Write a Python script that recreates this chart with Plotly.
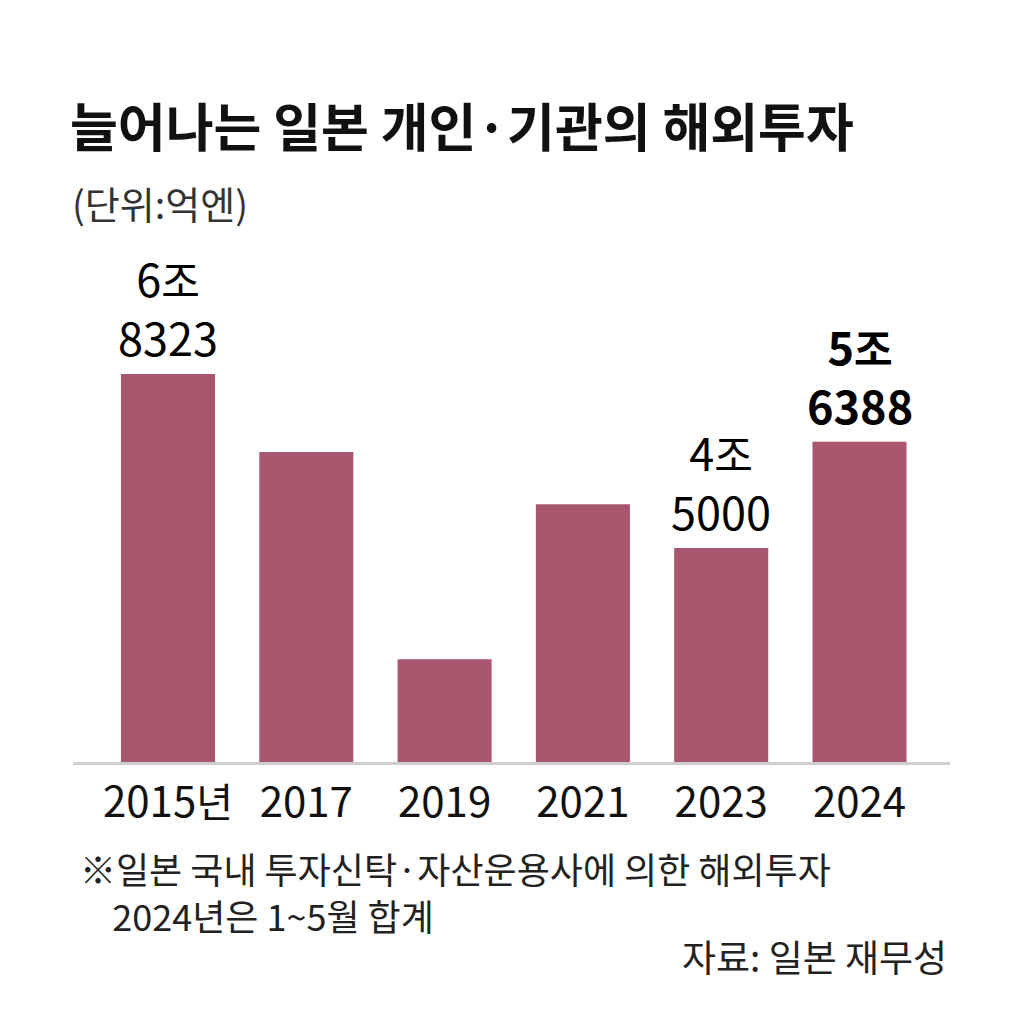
import plotly.graph_objects as go

# ---- data ----
categories = ["2015", "2017", "2019", "2021", "2023", "2024"]
tick_labels = ["2015년", "2017", "2019", "2021", "2023", "2024"]
values = [68323, 54600, 18100, 45400, 37700, 56388]  # 억엔 (bar heights as drawn)
label_top = ["6조", "", "", "", "4조", "5조"]
label_bottom = ["8323", "", "", "", "5000", "6388"]
label_bold = [False, False, False, False, False, True]

title = "늘어나는 일본 개인·기관의 해외투자"
subtitle = "(단위:억엔)"
note1 = "※일본 국내 투자신탁·자산운용사에 의한 해외투자"
note2 = "2024년은 1~5월 합계"
source = "자료: 일본 재무성"

FONT = "Noto Sans CJK KR, Noto Sans, sans-serif"
BAR = "#A9566F"


def mix(text, kr_size):
    """wrap hangul chars in span with their own size"""
    out = []
    for ch in text:
        if "\uac00" <= ch <= "\ud7a3":
            out.append(f'<span style="font-size:{kr_size}px">{ch}</span>')
        else:
            out.append(ch)
    return "".join(out)


fig = go.Figure()
fig.add_trace(go.Bar(
    x=categories, y=values, marker=dict(color=BAR, line=dict(width=0)),
    width=0.68, hoverinfo="skip",
))

W, H = 1027, 1023
L, R, T, B = 73, 77, 251, 261
ph = H - T - B


def py(p):
    return (H - B - p) / ph


def px(p):
    return (p - L) / (W - L - R)


ann = []
for i, (v, t, b, bold) in enumerate(zip(values, label_top, label_bottom, label_bold)):
    if not t:
        continue
    txt = f"{mix(t, 42)}<br>{b}"
    if bold:
        txt = f"<b>{mix(t, 42)}</b><br><b>{b}</b>"
    ann.append(dict(x=i, y=v, xref="x", yref="y", text=txt, showarrow=False,
                    yanchor="middle", yshift=67, align="center",
                    font=dict(family=FONT, size=45, color="#000")))

ann.append(dict(x=px(68), y=py(125), xref="paper", yref="paper", text=f"<b>{title}</b>",
                showarrow=False, xanchor="left", yanchor="middle",
                font=dict(family=FONT, size=52, color="#111")))
ann.append(dict(x=px(70), y=py(202), xref="paper", yref="paper", text=subtitle,
                showarrow=False, xanchor="left", yanchor="middle",
                font=dict(family=FONT, size=38, color="#333")))
notes = note1 + "<br>" + "\u00a0" * 4 + note2
ann.append(dict(x=px(78), y=py(891), xref="paper", yref="paper", text=notes,
                showarrow=False, xanchor="left", yanchor="middle", align="left",
                font=dict(family=FONT, size=36, color="#222")))
ann.append(dict(x=px(949), y=py(956), xref="paper", yref="paper", text=source,
                showarrow=False, xanchor="right", yanchor="middle",
                font=dict(family=FONT, size=37, color="#222")))

xr0 = (L - 168) / 138.3
xr1 = (W - R - 168) / 138.3
ymax = 68323 * ph / 388

fig.update_layout(
    width=W, height=H, autosize=False,
    margin=dict(l=L, r=R, t=T, b=B, pad=0),
    paper_bgcolor="white", plot_bgcolor="white",
    showlegend=False,
    annotations=ann,
    xaxis=dict(
        type="category", range=[xr0, xr1],
        tickvals=categories, ticktext=[mix(t, 40) for t in tick_labels],
        tickfont=dict(family=FONT, size=42, color="#111"),
        showline=True, linecolor="#CFCFCF", linewidth=3,
        ticks="outside", ticklen=2, tickcolor="rgba(0,0,0,0)",
        showgrid=False, zeroline=False, fixedrange=True,
    ),
    yaxis=dict(range=[0, ymax], visible=False, showgrid=False, zeroline=False, fixedrange=True),
)

fig.write_html("out.html", config={"displayModeBar": False})
